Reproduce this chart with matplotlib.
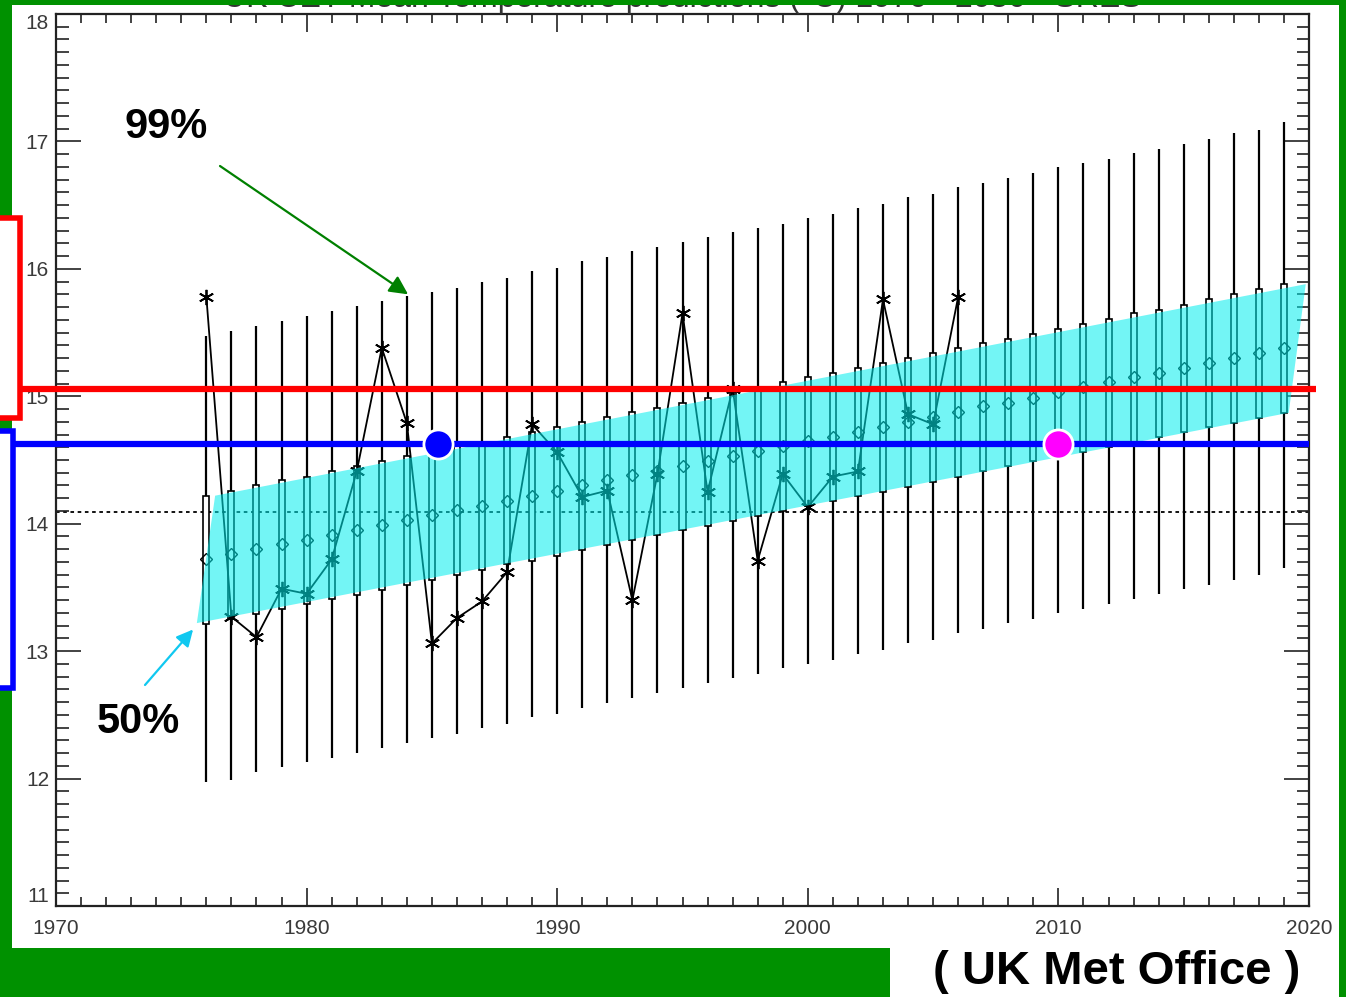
# -*- coding: utf-8 -*-

import numpy as np
import matplotlib
matplotlib.use('Agg')
import matplotlib.pyplot as plt
from matplotlib.patches import Rectangle
from matplotlib import transforms


# Datos: años de la proyección y percentiles por año
anios = list(range(1976, 2020))

bigote_alto = [15.47, 15.51, 15.55, 15.59, 15.63, 15.67, 15.71, 15.75, 15.79, 15.82,
               15.85, 15.90, 15.93, 15.98, 16.01, 16.06, 16.09, 16.14, 16.17, 16.21,
               16.25, 16.29, 16.32, 16.35, 16.40, 16.43, 16.48, 16.51, 16.56, 16.59,
               16.64, 16.67, 16.71, 16.75, 16.80, 16.83, 16.86, 16.91, 16.94, 16.98,
               17.02, 17.07, 17.09, 17.15]
bigote_bajo = [11.97, 11.99, 12.05, 12.09, 12.13, 12.16, 12.20, 12.24, 12.28, 12.32,
               12.35, 12.40, 12.43, 12.48, 12.51, 12.55, 12.59, 12.63, 12.67, 12.71,
               12.75, 12.79, 12.82, 12.87, 12.90, 12.93, 12.98, 13.01, 13.06, 13.09,
               13.14, 13.17, 13.22, 13.25, 13.30, 13.33, 13.37, 13.41, 13.45, 13.49,
               13.52, 13.56, 13.60, 13.65]
caja_alta = [14.22, 14.26, 14.30, 14.34, 14.37, 14.41, 14.45, 14.49, 14.53, 14.57,
             14.61, 14.64, 14.68, 14.72, 14.76, 14.80, 14.84, 14.88, 14.91, 14.95,
             14.99, 15.03, 15.07, 15.11, 15.15, 15.18, 15.22, 15.26, 15.30, 15.34,
             15.38, 15.42, 15.45, 15.49, 15.53, 15.57, 15.61, 15.65, 15.68, 15.72,
             15.76, 15.80, 15.84, 15.88]
caja_baja = [13.21, 13.25, 13.29, 13.33, 13.37, 13.41, 13.44, 13.48, 13.52, 13.56,
             13.60, 13.64, 13.68, 13.71, 13.75, 13.79, 13.83, 13.87, 13.91, 13.95,
             13.98, 14.02, 14.06, 14.10, 14.14, 14.18, 14.22, 14.25, 14.29, 14.33,
             14.37, 14.41, 14.45, 14.49, 14.52, 14.56, 14.60, 14.64, 14.68, 14.72,
             14.76, 14.79, 14.83, 14.87]
mediana = [13.72, 13.76, 13.80, 13.84, 13.87, 13.91, 13.95, 13.99, 14.03, 14.07,
           14.11, 14.14, 14.18, 14.22, 14.26, 14.30, 14.34, 14.38, 14.41, 14.45,
           14.49, 14.53, 14.57, 14.61, 14.65, 14.68, 14.72, 14.76, 14.80, 14.84,
           14.88, 14.92, 14.95, 14.99, 15.03, 15.07, 15.11, 15.15, 15.18, 15.22,
           15.26, 15.30, 15.34, 15.38]

# Observaciones (asteriscos)
anios_obs = list(range(1976, 2007))
obs = [15.78, 13.27, 13.11, 13.49, 13.45, 13.72, 14.41, 15.38, 14.79, 13.06,
       13.26, 13.39, 13.62, 14.78, 14.56, 14.21, 14.26, 13.40, 14.39, 15.65,
       14.25, 15.06, 13.71, 14.39, 14.13, 14.37, 14.41, 15.76, 14.86, 14.78,
       15.78]

# Banda del 50% (esquinas)
banda_x_baja = [1975.62, 2019.19]
banda_baja = [13.22, 14.87]
banda_x_alta = [1976.35, 2019.87]
banda_alta = [14.22, 15.88]

media_base = 14.09
nivel_rojo = 15.06
nivel_azul = 14.625
punto_azul = (1985.25, nivel_azul)
punto_magenta = (2010.0, nivel_azul)

verde = '#009100'
W, H = 1346, 997

fig = plt.figure(figsize=(W / 100, H / 100), dpi=100, facecolor=verde)

# Paneles blancos sobre el fondo verde
fig.add_artist(Rectangle((12 / W, 1 - 948 / H), (1339 - 12) / W, (948 - 5) / H,
                         transform=fig.transFigure, facecolor='white',
                         edgecolor='none', zorder=-2))
fig.add_artist(Rectangle((890 / W, 0), (1339 - 890) / W, 1 - 948 / H + 0.002,
                         transform=fig.transFigure, facecolor='white',
                         edgecolor='none', zorder=-2))

ax = fig.add_axes([56 / W, 1 - 906 / H, (1309 - 56) / W, (906 - 14) / H])
ax.set_facecolor('white')
ax.set_xlim(1970, 2020)
ax.set_ylim(11, 18)

# Ejes estilo IDL: marcas hacia dentro en los cuatro lados
ax.set_xticks(np.arange(1970, 2021, 10))
ax.set_xticks(np.arange(1970, 2021, 1), minor=True)
ax.set_yticks(np.arange(11, 19, 1))
ax.set_yticks(np.arange(11, 18.01, 0.1), minor=True)
ax.tick_params(which='both', direction='in', top=True, right=True, width=1.2,
               colors='#222222', labelcolor='#3a3a3a', labelsize=15)
ax.xaxis.set_tick_params(which='major', length=13, pad=9)
ax.xaxis.set_tick_params(which='minor', length=6.5)
ax.yaxis.set_tick_params(which='major', length=18, pad=5)
ax.yaxis.set_tick_params(which='minor', length=9)
for lab in ax.get_xticklabels() + ax.get_yticklabels():
    lab.set_family('Liberation Sans')
# las etiquetas extremas quedan dentro del recuadro
etiquetas_y = ax.yaxis.get_majorticklabels()
etiquetas_y[0].set_va('bottom')
etiquetas_y[-1].set_va('top')
for s in ax.spines.values():
    s.set_linewidth(1.6)
    s.set_color('#222222')

# Titulo (casi tapado por la franja verde)
ax.text(0.5, 1.0 + 7 / 892, 'UK CET Mean Temperature predictions (\u00b0C) 1976 - 2050 - SRES',
        transform=ax.transAxes, ha='center', va='baseline', fontsize=23,
        color='#333333', family='Liberation Sans')

# Linea de referencia punteada
ax.axhline(media_base, color='k', lw=1.3, ls=(0, (2, 2)), zorder=1)

# Bigotes, cajas y medianas
ax.vlines(anios, bigote_bajo, bigote_alto, color='k', lw=1.6, zorder=2)
alturas = [a - b for a, b in zip(caja_alta, caja_baja)]
ax.bar(anios, alturas, bottom=caja_baja, width=0.24, facecolor='white',
       edgecolor='k', linewidth=1.2, zorder=3)
ax.plot(anios, mediana, ls='none', marker='D', ms=6, mfc='none', mec='k',
        mew=1.0, zorder=3.5)

# Observaciones
ax.plot(anios_obs, obs, '-', color='k', lw=1.3, marker=(6, 2, 0), ms=11,
        mew=1.3, zorder=4)

# Banda del 50%
poli_x = banda_x_baja + banda_x_alta[::-1]
poli_y = banda_baja + banda_alta[::-1]
ax.fill(poli_x, poli_y, color='#00EEEE', alpha=0.55, lw=0, zorder=5)

# Niveles rojo y azul, con sus cajas en el borde izquierdo
trans = transforms.blended_transform_factory(fig.transFigure, ax.transData)
ax.plot([22 / W, 1316 / W], [nivel_rojo, nivel_rojo], color='#FF0000', lw=4.5,
        transform=trans, clip_on=False, zorder=6, solid_capstyle='butt')
ax.plot([0, 1309 / W], [nivel_azul, nivel_azul], color='#0000FF', lw=4.5,
        transform=trans, clip_on=False, zorder=6, solid_capstyle='butt')
ax.add_patch(Rectangle((-10 / W, 14.83), 30 / W, 16.40 - 14.83, transform=trans,
                       facecolor='white', edgecolor='#FF0000', lw=4,
                       clip_on=False, zorder=6))
ax.add_patch(Rectangle((-10 / W, 12.71), 23 / W, 14.73 - 12.71, transform=trans,
                       facecolor='white', edgecolor='#0000FF', lw=4,
                       clip_on=False, zorder=6))

ax.plot(*punto_azul, 'o', ms=21, mfc='#0000FF', mec='white', mew=2,
        clip_on=False, zorder=7)
ax.plot(*punto_magenta, 'o', ms=21, mfc='#FF00FF', mec='white', mew=2,
        clip_on=False, zorder=7)

# Flechas y etiquetas de percentiles
ax.annotate('', xy=(1984.05, 15.80), xytext=(220 / W, 1 - 166 / H),
            textcoords='figure fraction',
            arrowprops=dict(arrowstyle='-|>', color='#008000', lw=1.6,
                            mutation_scale=28, shrinkA=0, shrinkB=0))
ax.annotate('', xy=(banda_x_baja[0] - 0.15, banda_baja[0] - 0.05),
            xytext=(145 / W, 1 - 685 / H), textcoords='figure fraction',
            arrowprops=dict(arrowstyle='-|>', color='#10C8F0', lw=1.6,
                            mutation_scale=25, shrinkA=0, shrinkB=0),
            annotation_clip=False)
fig.text(125 / W, 1 - 127 / H, '99%', fontsize=30, weight='bold',
         family='Liberation Sans', va='center', ha='left')
fig.text(97 / W, 1 - 722 / H, '50%', fontsize=30, weight='bold',
         family='Liberation Sans', va='center', ha='left')

# Franja verde superior (sobre el titulo)
fig.add_artist(Rectangle((0, 1 - 5 / H), 1, 5 / H, transform=fig.transFigure,
                         facecolor=verde, edgecolor='none', zorder=10))

fig.text(1117 / W, 1 - 972 / H, '( UK Met Office )', fontsize=34, weight='bold',
         family='Liberation Sans', va='center', ha='center')

fig.savefig('out.png', dpi=100, facecolor=verde)
